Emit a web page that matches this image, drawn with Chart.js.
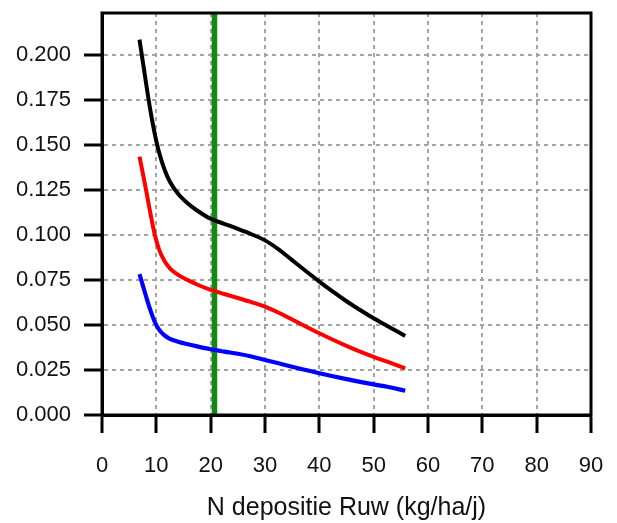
<!DOCTYPE html>
<html>
<head>
<meta charset="utf-8">
<script src="https://cdn.jsdelivr.net/npm/chart.js@4/dist/chart.umd.min.js"></script>
<style>
  html, body { margin: 0; padding: 0; background: #ffffff; }
  #wrap { width: 617px; height: 523px; }
</style>
</head>
<body>
<div id="wrap"><canvas id="c" width="617" height="523"></canvas></div>
<script>
// ---- data ----
const xValues   = [6.9, 7.6, 8.3, 9, 9.7, 10.5, 11.5, 12.5, 14, 15.8, 17.5, 20, 22.5, 25, 27.5, 30, 32.5, 35, 37.5, 40, 42.5, 45, 47.5, 50, 52.5, 55.8];
const blackVals = [0.2085, 0.1945, 0.1805, 0.1675, 0.1563, 0.1459, 0.1364, 0.1296, 0.1229, 0.1175, 0.1136, 0.1090, 0.1062, 0.1034, 0.1004, 0.0970, 0.0920, 0.0860, 0.0800, 0.0741, 0.0685, 0.0632, 0.0583, 0.0537, 0.0495, 0.0439];
const redVals   = [0.1435, 0.1330, 0.1218, 0.1106, 0.1004, 0.0920, 0.0855, 0.0815, 0.0778, 0.0749, 0.0725, 0.0695, 0.0672, 0.0650, 0.0627, 0.0602, 0.0568, 0.0530, 0.0492, 0.0454, 0.0418, 0.0384, 0.0352, 0.0323, 0.0296, 0.0259];
const blueVals  = [0.0783, 0.0711, 0.0640, 0.0574, 0.0518, 0.0474, 0.0442, 0.0423, 0.0407, 0.0393, 0.0381, 0.0365, 0.0352, 0.0340, 0.0325, 0.0306, 0.0287, 0.0268, 0.0250, 0.0232, 0.0215, 0.0199, 0.0184, 0.0170, 0.0157, 0.0135];
const greenX    = 20.7;
const xTicks    = [0, 10, 20, 30, 40, 50, 60, 70, 80, 90];
const yTicks    = [0, 0.025, 0.05, 0.075, 0.1, 0.125, 0.15, 0.175, 0.2];
const xTitle    = 'N depositie Ruw (kg/ha/j)';
const yMin = 0, yMax = 0.2233, xMin = 0, xMax = 90;

const pts = (xs, ys) => xs.map((x, i) => ({ x: x, y: ys[i] }));

const frame = {
  id: 'frame',
  afterDatasetsDraw(chart) {
    const a = chart.chartArea, ctx = chart.ctx;
    ctx.save();
    ctx.strokeStyle = '#000';
    ctx.lineWidth = 3;
    ctx.strokeRect(a.left, a.top, a.right - a.left, a.bottom - a.top);
    ctx.restore();
  }
};

const fam = '"Liberation Sans", Arial, sans-serif';
const tickFont = { family: fam, size: 22 };
const lineDs = (data, color, w) => ({
  data: data, borderColor: color, borderWidth: w, pointRadius: 0,
  cubicInterpolationMode: 'monotone', fill: false, order: 0
});
const gridOpts = { color: '#a3a3a3', lineWidth: 2, tickLength: 18, tickWidth: 3, tickColor: '#000' };
const borderOpts = { display: true, color: '#000', width: 3, dash: [4, 4] };

new Chart(document.getElementById('c'), {
  type: 'line',
  data: {
    datasets: [
      lineDs(pts(xValues, blackVals), '#000000', 4),
      lineDs(pts(xValues, redVals), '#ff0000', 4),
      lineDs(pts(xValues, blueVals), '#0000ff', 4.2),
      { data: [{ x: greenX, y: yMin }, { x: greenX, y: yMax }], borderColor: '#128a12',
        borderWidth: 5.5, pointRadius: 0, fill: false, order: 1 }
    ]
  },
  options: {
    responsive: false,
    animation: false,
    layout: { padding: { top: 13, right: 26, left: 0, bottom: 0 } },
    plugins: { legend: { display: false }, tooltip: { enabled: false } },
    scales: {
      x: {
        type: 'linear', min: xMin, max: xMax,
        afterBuildTicks: s => { s.ticks = xTicks.map(v => ({ value: v })); },
        afterFit: s => { s.height = 108; s.paddingLeft = 0; s.paddingRight = 0; },
        ticks: { font: tickFont, color: '#111', padding: 20, maxRotation: 0,
                 callback: v => String(v) },
        grid: gridOpts,
        border: borderOpts,
        title: { display: true, text: xTitle, color: '#111',
                 font: { family: fam, size: 25 },
                 padding: { top: 0, bottom: 0 } }
      },
      y: {
        type: 'linear', min: yMin, max: yMax,
        afterBuildTicks: s => { s.ticks = yTicks.map(v => ({ value: v })); },
        afterFit: s => { s.width = 102; s.paddingTop = 0; s.paddingBottom = 0; },
        ticks: { font: tickFont, color: '#111', padding: 13,
                 callback: v => Number(v).toFixed(3) },
        grid: gridOpts,
        border: borderOpts
      }
    }
  },
  plugins: [frame]
});
</script>
</body>
</html>
